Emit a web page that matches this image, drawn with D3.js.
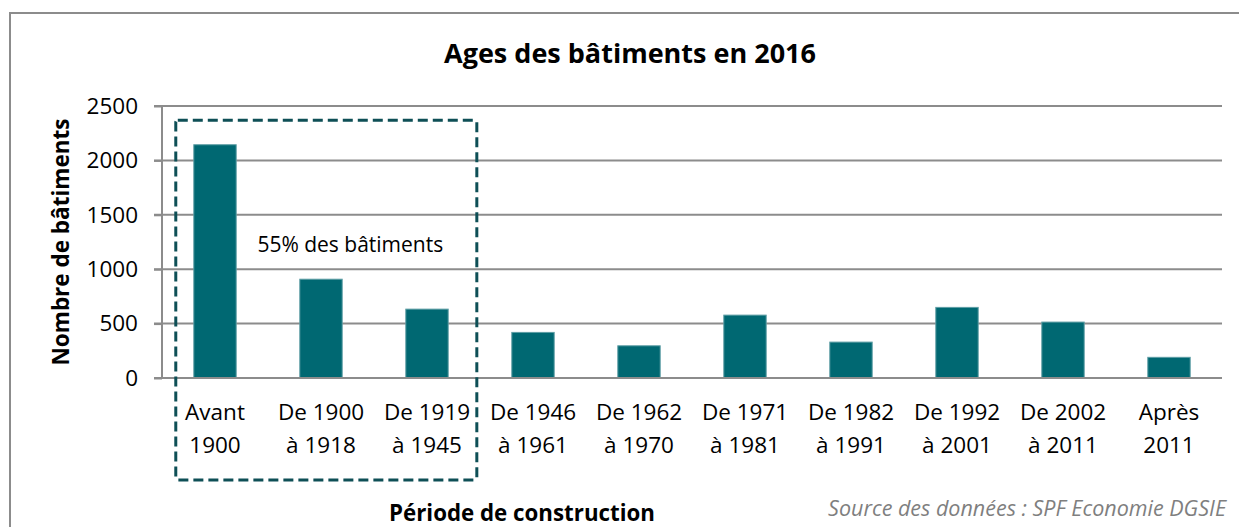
<!DOCTYPE html>
<html>
<head>
<meta charset="utf-8">
<script src="https://cdn.jsdelivr.net/npm/d3@7"></script>
<style>
  body { margin: 0; background: #fff; }
  text { font-family: "Open Sans", "Noto Sans", sans-serif; }
</style>
</head>
<body>
<div id="chart"></div>
<script>
// data
var periodes = ["Avant|1900", "De 1900|à 1918", "De 1919|à 1945", "De 1946|à 1961", "De 1962|à 1970",
                "De 1971|à 1981", "De 1982|à 1991", "De 1992|à 2001", "De 2002|à 2011", "Après|2011"];
var batiments = [2144, 908, 633, 419, 296, 578, 330, 649, 514, 190];
var yTicks = [0, 500, 1000, 1500, 2000, 2500];
var groupe = [0, 2]; // catégories encadrées (55%)

var W = 1239, H = 527;
var margin = {top: 106, right: 17, bottom: 149, left: 162};
var width = W - margin.left - margin.right,
    height = H - margin.top - margin.bottom;

var root = d3.select("#chart").append("svg")
    .attr("width", W)
    .attr("height", H);

// outer frame
root.append("rect")
    .attr("x", 10).attr("y", 13)
    .attr("width", W + 20).attr("height", H + 20)
    .attr("fill", "none")
    .attr("stroke", "#8c8c8c")
    .attr("stroke-width", 2);

// title
root.append("text")
    .attr("x", 630).attr("y", 63)
    .attr("text-anchor", "middle")
    .style("font-weight", "bold")
    .style("font-size", "27px")
    .text("Ages des bâtiments en 2016");

var svg = root.append("g")
    .attr("transform", `translate(${margin.left}, ${margin.top})`);

var x = d3.scaleBand()
    .domain(periodes)
    .range([0, width])
    .paddingInner(0.6)
    .paddingOuter(0.3);

var y = d3.scaleLinear()
    .domain([0, 2500])
    .range([height, 0]);

// grid lines
svg.append("g")
    .selectAll("line")
    .data(yTicks.slice(1))
    .enter()
    .append("line")
    .attr("x1", -8).attr("x2", width)
    .attr("y1", d => y(d)).attr("y2", d => y(d))
    .attr("stroke", "#8c8c8c")
    .attr("stroke-width", 2);

// y axis
var yAxis = svg.append("g")
    .call(d3.axisLeft(y).tickValues(yTicks).tickFormat(d3.format("d")).tickSize(8).tickPadding(16));
yAxis.select(".domain").attr("stroke", "#8c8c8c").attr("stroke-width", 2).attr("d", `M0,${height}V0`);
yAxis.selectAll(".tick line").attr("stroke", "#8c8c8c").attr("stroke-width", 2);
yAxis.selectAll(".tick text")
    .style("font-size", "22.5px")
    .attr("fill", "#000");

// bars
svg.selectAll(".bar")
    .data(batiments)
    .enter()
    .append("rect")
    .attr("x", (d, i) => x(periodes[i]))
    .attr("y", d => y(d))
    .attr("width", x.bandwidth())
    .attr("height", d => height - y(d))
    .attr("fill", "#006872")
    .attr("stroke", "#5e9ea5")
    .attr("stroke-width", 1);

// x axis
var xAxis = svg.append("g")
    .attr("transform", `translate(0, ${height})`)
    .call(d3.axisBottom(x).tickSize(0).tickPadding(0));
xAxis.select(".domain").attr("stroke", "#8c8c8c").attr("stroke-width", 2).attr("d", `M-8,0H${width}`);
xAxis.selectAll(".tick text").each(function(d) {
    var t = d3.select(this).text("").attr("y", 0).attr("dy", null);
    d.split("|").forEach(function(l, k) {
        t.append("tspan")
            .attr("x", 0)
            .attr("y", 42 + k * 33)
            .text(l);
    });
}).style("font-size", "22.5px").attr("fill", "#000");

// dashed box around first three categories
var step = x.step();
var bx0 = x(periodes[groupe[0]]) - step * 0.17,
    bx1 = x(periodes[groupe[1]]) + x.bandwidth() + step * 0.27;
svg.append("rect")
    .attr("x", bx0)
    .attr("y", y(2370))
    .attr("width", bx1 - bx0)
    .attr("height", 480 - margin.top - y(2370))
    .attr("rx", 2)
    .attr("fill", "none")
    .attr("stroke", "#0e4f56")
    .attr("stroke-width", 3)
    .attr("stroke-dasharray", "10,5");

svg.append("text")
    .attr("x", (bx0 + bx1) / 2 + 24)
    .attr("y", 252 - margin.top)
    .attr("text-anchor", "middle")
    .style("font-size", "21px")
    .text("55% des bâtiments");

// axis titles
root.append("text")
    .attr("transform", "rotate(-90)")
    .attr("x", -242).attr("y", 69)
    .attr("text-anchor", "middle")
    .style("font-weight", "bold")
    .style("font-size", "22.5px")
    .text("Nombre de bâtiments");

root.append("text")
    .attr("x", 522).attr("y", 521)
    .attr("text-anchor", "middle")
    .style("font-weight", "bold")
    .style("font-size", "22.3px")
    .text("Période de construction");

root.append("text")
    .attr("x", 1226).attr("y", 516)
    .attr("text-anchor", "end")
    .style("font-style", "italic")
    .style("font-size", "21.5px")
    .attr("fill", "#7f7f7f")
    .text("Source des données : SPF Economie DGSIE");
</script>
</body>
</html>
